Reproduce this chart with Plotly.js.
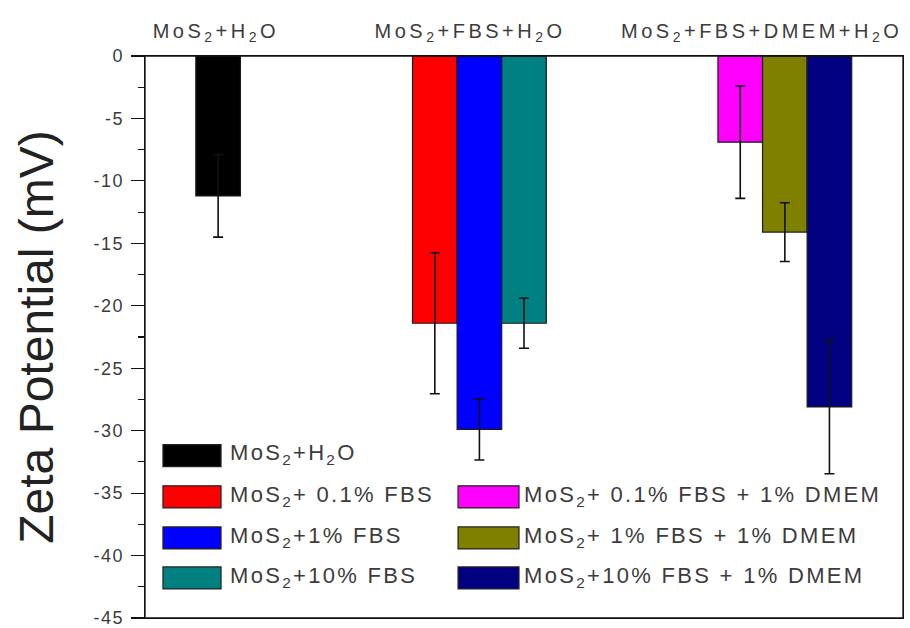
<!DOCTYPE html>
<html>
<head>
<meta charset="utf-8">
<script src="https://cdn.plot.ly/plotly-3.0.1.min.js"></script>
<style>
  html, body { margin: 0; padding: 0; background: #fff; }
  #chart { width: 910px; height: 628px; }
  .xtick text { letter-spacing: 3.5px; }
  .annotation-text { letter-spacing: 2.3px; }
  .ytick text { letter-spacing: 1.5px; }
</style>
</head>
<body>
<div id="chart"></div>
<script>
// ---- data ----
const conditions = [
  'MoS<sub>2</sub>+H<sub>2</sub>O',
  'MoS<sub>2</sub>+ 0.1% FBS',
  'MoS<sub>2</sub>+1% FBS',
  'MoS<sub>2</sub>+10% FBS',
  'MoS<sub>2</sub>+ 0.1% FBS + 1% DMEM',
  'MoS<sub>2</sub>+ 1% FBS + 1% DMEM',
  'MoS<sub>2</sub>+10% FBS + 1% DMEM'
];
const zeta    = [-11.2, -21.4, -29.9, -21.4, -6.9, -14.1, -28.1];
const zetaErr = [3.3, 5.65, 2.45, 2.0, 4.5, 2.35, 5.35];
const groupOf = [0, 1, 1, 1, 2, 2, 2];
const groupLabels = [
  'MoS<sub>2</sub>+H<sub>2</sub>O',
  'MoS<sub>2</sub>+FBS+H<sub>2</sub>O',
  'MoS<sub>2</sub>+FBS+DMEM+H<sub>2</sub>O'
];
const yTickVals = [0, -5, -10, -15, -20, -25, -30, -35, -40, -45];
const yTickText = ['0', '-5', '-10', '-15', '-20', '-25', '-30', '-35', '-40', '-45'];

// ---- styles / layout constants ----
const barColors = ['#000000', '#ff0000', '#0000ff', '#008080', '#ff00ff', '#808000', '#000080'];
const groupCenters = [1.64, 7.5, 14.35];
const groupLabelPos = [1.59, 7.29, 13.83];
const textFont = 'Liberation Sans, Arial, sans-serif';
const textGray = '#3c3c3c';

// position of each bar inside its group
const groupSizes = groupCenters.map((_, g) => groupOf.filter(v => v === g).length);
const slotInGroup = groupOf.map((g, i) => groupOf.slice(0, i).filter(v => v === g).length);
const barX = groupOf.map((g, i) => groupCenters[g] + slotInGroup[i] - (groupSizes[g] - 1) / 2);

const traces = conditions.map((name, i) => ({
  type: 'bar',
  name: name,
  x: [barX[i]],
  y: [zeta[i]],
  width: 1,
  showlegend: false,
  marker: { color: barColors[i], opacity: 1, line: { color: '#1a1a1a', width: 1.2 } },
  error_y: { type: 'data', array: [zetaErr[i]], visible: true, color: '#111', thickness: 1.6, width: 5 },
  hoverinfo: 'y'
}));

// plot frame
const shapes = [{
  type: 'rect', xref: 'paper', yref: 'paper', x0: 0, x1: 1, y0: 0, y1: 1,
  line: { color: '#111', width: 1.3 }, fillcolor: 'rgba(0,0,0,0)', layer: 'above'
}];
// custom legend (two columns) built from the data arrays
const annotations = [];
const rowY = [0.289, 0.2155, 0.1425, 0.0713];
const swatchX = [[0.0237, 0.1003], [0.413, 0.4934]];
const textX = [0.1095, 0.4975];
const halfH = 0.0196;
conditions.forEach((name, i) => {
  const col = i < 4 ? 0 : 1;
  const row = i < 4 ? i : i - 3;
  shapes.push({
    type: 'rect', xref: 'paper', yref: 'paper',
    x0: swatchX[col][0], x1: swatchX[col][1],
    y0: rowY[row] - halfH, y1: rowY[row] + halfH,
    fillcolor: barColors[i], line: { color: '#222', width: 1.2 }
  });
  annotations.push({
    xref: 'paper', yref: 'paper', x: textX[col], y: rowY[row] + 0.002,
    xanchor: 'left', yanchor: 'middle', align: 'left', showarrow: false,
    text: name, font: { family: textFont, size: 22, color: textGray }
  });
});

const layout = {
  width: 910, height: 628,
  margin: { l: 145, r: 7, t: 56, b: 10 },
  paper_bgcolor: '#ffffff', plot_bgcolor: '#ffffff',
  barmode: 'overlay',
  showlegend: false,
  xaxis: {
    type: 'linear', range: [0, 17], side: 'top',
    tickmode: 'array', tickvals: groupLabelPos, ticktext: groupLabels,
    ticks: '', showgrid: false, zeroline: false,
    showline: true, linecolor: '#111', linewidth: 1.3, mirror: true,
    tickfont: { family: textFont, size: 20, color: textGray },
    ticklabelstandoff: 9
  },
  yaxis: {
    range: [-45, 0],
    tickmode: 'array', tickvals: yTickVals, ticktext: yTickText,
    ticks: 'outside', ticklen: 13, tickwidth: 1.2, tickcolor: '#111',
    minor: { dtick: 2.5, ticks: 'outside', ticklen: 6, tickwidth: 1.2, tickcolor: '#111', showgrid: false },
    showgrid: false, zeroline: false,
    showline: true, linecolor: '#111', linewidth: 1.3, mirror: true,
    tickfont: { family: textFont, size: 18, color: textGray },
    ticklabelstandoff: 3,
    ticklabeloverflow: 'allow',
    title: { text: 'Zeta Potential (mV)', standoff: 24,
             font: { family: textFont, size: 48, color: '#222' } }
  },
  shapes: shapes,
  annotations: annotations
};

Plotly.newPlot('chart', traces, layout, { displayModeBar: false, staticPlot: true });
</script>
</body>
</html>
